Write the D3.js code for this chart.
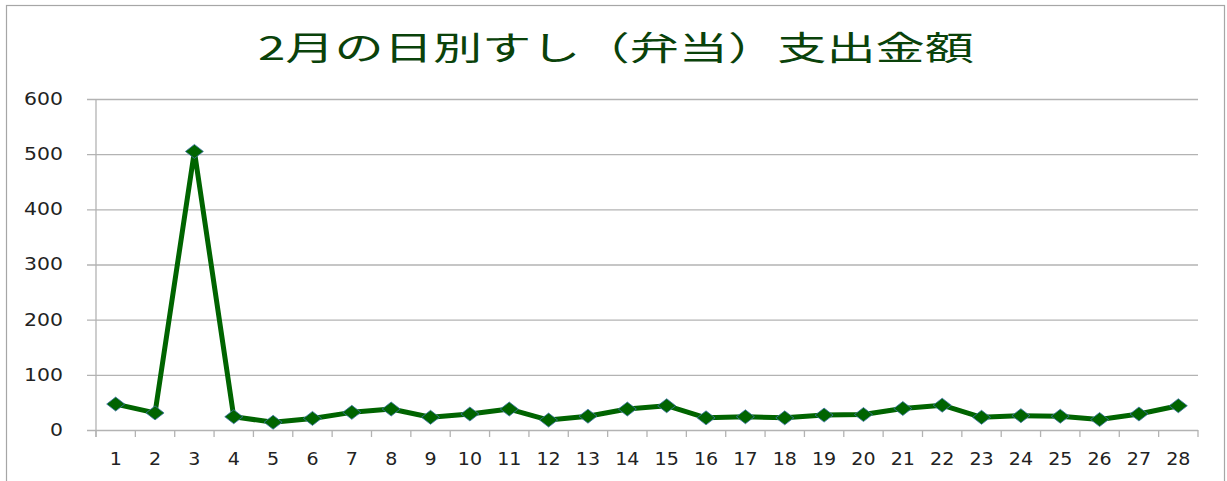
<!DOCTYPE html>
<html>
<head>
<meta charset="utf-8">
<script src="https://cdn.jsdelivr.net/npm/d3@7"></script>
<style>
  body { margin: 0; background: #fff; }
  svg { display: block; }
</style>
</head>
<body>
<svg id="chart" width="1227" height="481"></svg>
<script>
var chartTitle = '2月の日別すし（弁当）支出金額';
var days = ['1', '2', '3', '4', '5', '6', '7', '8', '9', '10', '11', '12', '13', '14',
  '15', '16', '17', '18', '19', '20', '21', '22', '23', '24', '25', '26', '27', '28'];
var amounts = [47, 31, 505, 24, 14, 21, 32, 38, 23, 29, 38, 18, 25, 38,
  44, 22, 24, 22, 27, 28, 39, 45, 23, 26, 25, 19, 29, 44];
var yTicks = [0, 100, 200, 300, 400, 500, 600];

function buildChart() {
  var svg = d3.select('#chart');
  var padding = { t: 99, r: 29, b: 50, l: 96 };
  var svgWidth = +svg.attr('width');
  var svgHeight = +svg.attr('height');
  var chartWidth = svgWidth - padding.l - padding.r;
  var chartHeight = svgHeight - padding.t - padding.b - 1;

  // outer frame of the chart object
  svg.append('rect')
    .attr('x', 6.5).attr('y', 5.5)
    .attr('width', 1218).attr('height', 500)
    .attr('fill', '#fff')
    .attr('stroke', '#a6a6a6')
    .attr('stroke-width', 1.2);

  svg.append('text')
    .attr('x', 616)
    .attr('y', 60)
    .attr('text-anchor', 'middle')
    .attr('textLength', 716)
    .attr('lengthAdjust', 'spacingAndGlyphs')
    .style('font-family', '"Noto Sans CJK JP", sans-serif')
    .style('font-size', '33px')
    .style('fill', '#0a420a')
    .text(chartTitle);

  var chartG = svg.append('g')
    .attr('transform', 'translate(' + [padding.l, padding.t] + ')');

  var xScale = d3.scaleBand()
    .domain(days)
    .range([0, chartWidth]);
  var yScale = d3.scaleLinear()
    .domain([0, 600])
    .range([chartHeight, 0]);

  // horizontal gridlines + y axis
  var yAxisG = chartG.append('g')
    .call(d3.axisLeft(yScale)
      .tickValues(yTicks)
      .tickSize(-chartWidth - 9)
      .tickSizeOuter(0)
      .tickPadding(0));
  yAxisG.select('.domain').remove();
  yAxisG.selectAll('.tick line')
    .attr('x1', -9)
    .attr('x2', chartWidth)
    .attr('stroke', '#b3b3b3')
    .attr('stroke-width', 1.3);
  yAxisG.selectAll('.tick text')
    .attr('x', null)
    .attr('transform', 'translate(-33,0) scale(1.2,1)')
    .style('font-family', '"DejaVu Sans", sans-serif')
    .style('font-size', '17px')
    .style('fill', '#222');

  // vertical axis line
  chartG.append('line')
    .attr('x1', 0).attr('x2', 0)
    .attr('y1', 0).attr('y2', chartHeight + 7)
    .attr('stroke', '#b3b3b3')
    .attr('stroke-width', 1.3);

  // x axis: ticks between categories
  var xAxisG = chartG.append('g')
    .attr('transform', 'translate(0,' + chartHeight + ')');
  var bounds = days.map(function(d) { return xScale(d); }).concat([chartWidth]);
  xAxisG.selectAll('.xtick')
    .data(bounds)
    .enter()
    .append('line')
    .attr('class', 'xtick')
    .attr('x1', function(d) { return d; })
    .attr('x2', function(d) { return d; })
    .attr('y1', 0).attr('y2', 7)
    .attr('stroke', '#b3b3b3')
    .attr('stroke-width', 1.3);
  xAxisG.selectAll('.xlabel')
    .data(days)
    .enter()
    .append('text')
    .attr('class', 'xlabel')
    .attr('transform', function(d) {
      return 'translate(' + [xScale(d) + xScale.bandwidth() / 2, 35] + ') scale(1.12,1)';
    })
    .attr('text-anchor', 'middle')
    .style('font-family', '"DejaVu Sans", sans-serif')
    .style('font-size', '17px')
    .style('fill', '#222')
    .text(function(d) { return d; });

  // series line
  var line = d3.line()
    .x(function(d, i) { return xScale(days[i]) + xScale.bandwidth() / 2; })
    .y(function(d) { return yScale(d); });
  chartG.append('path')
    .datum(amounts)
    .attr('d', line)
    .attr('fill', 'none')
    .attr('stroke', '#006400')
    .attr('stroke-width', 5)
    .attr('stroke-linejoin', 'round');

  // diamond markers
  chartG.selectAll('.marker')
    .data(amounts)
    .enter()
    .append('path')
    .attr('class', 'marker')
    .attr('d', 'M0,-7L9,0L0,7L-9,0Z')
    .attr('transform', function(d, i) {
      return 'translate(' + [xScale(days[i]) + xScale.bandwidth() / 2, yScale(d)] + ')';
    })
    .attr('fill', '#006400')
    .attr('stroke', '#3f76a8')
    .attr('stroke-width', 0.8);
}

buildChart();
</script>
</body>
</html>
